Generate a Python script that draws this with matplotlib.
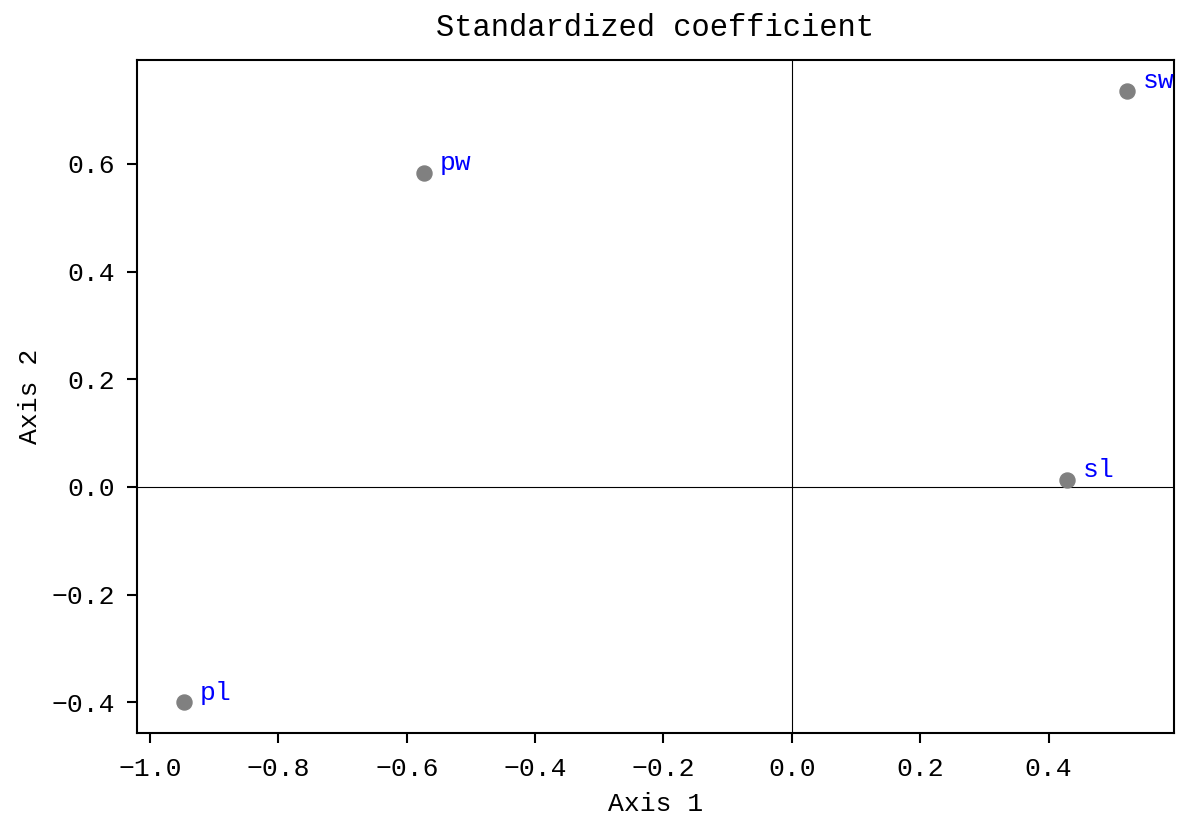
import matplotlib.pyplot as plt
import numpy as np

names = ['sl', 'sw', 'pl', 'pw']
axis1 = [0.428, 0.522, -0.947, -0.573]
axis2 = [0.013, 0.736, -0.400, 0.583]

plt.rcParams['font.family'] = ['Liberation Mono', 'DejaVu Sans']

fig = plt.figure(figsize=(11.82, 8.26), dpi=100)
ax = fig.add_axes([0.1159, 0.1126, 0.8773, 0.8148])

ax.scatter(axis1, axis2, s=117, color='grey', zorder=3)
for n, x, y in zip(names, axis1, axis2):
    ax.text(x + 0.025, y + 0.005, n, color='blue', fontsize=19)

ax.axhline(0, color='black', linewidth=0.8)
ax.axvline(0, color='black', linewidth=0.8)

ax.set_xticks(np.arange(-1.0, 0.41, 0.2))
ax.set_yticks(np.arange(-0.4, 0.61, 0.2))
ax.tick_params(labelsize=19, length=7, width=1.5)
ax.tick_params(axis='x', pad=10)
ax.tick_params(axis='y', pad=9)
for s in ax.spines.values():
    s.set_linewidth(1.5)

ax.set_title('Standardized coefficient', fontsize=22, pad=17)
ax.set_xlabel('Axis 1', fontsize=19, labelpad=8)
ax.set_ylabel('Axis 2', fontsize=19, labelpad=7)

plt.savefig('out.png')
